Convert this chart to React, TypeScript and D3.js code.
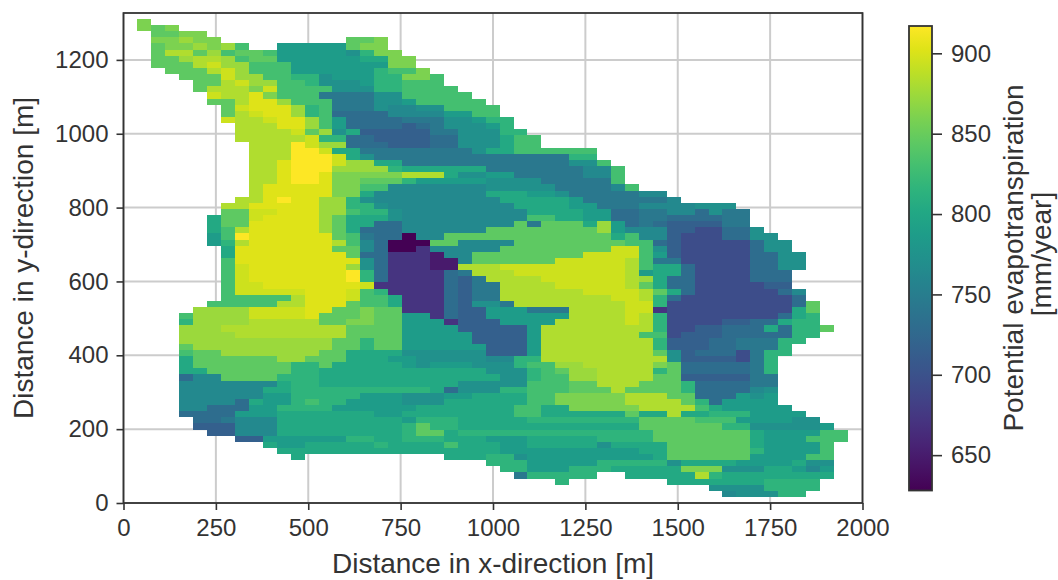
import React, { useRef, useEffect } from 'react';
import * as d3 from 'd3';

const width = 1058, height = 580;
const margin = { left: 123.5, right: 862.5, top: 13, bottom: 503 };
const font = '"Liberation Sans", Arial, sans-serif';
const ink = '#333333';

const xTicks = [0, 250, 500, 750, 1000, 1250, 1500, 1750, 2000];
const yTicks = [0, 200, 400, 600, 800, 1000, 1200];
const barTicks = [650, 700, 750, 800, 850, 900];

// grid of the raster, in metres
const cellW = 37.7, cellH = 16.6, gridTop = 1311;

// mm/year of each letter used in rowRuns
const levelKeys = 'abcdefghijklmnopqrst';
const levelValues = [628, 648, 671, 695, 715, 730, 744, 764, 773, 787, 802, 816, 831, 845, 860, 874, 883, 895, 903, 917];

// one string per raster row, top to bottom: "<first column><level>", '.' = no data
const rowRuns = [
  '1o 2.',
  '1o 2n 3o 4.',
  '2n 4o 6.',
  '2o 4p 5o 7. 16n 18o 19.',
  '2n 3o 5p 6o 7p 8m 9. 11j 16n 17o 19.',
  '2n 3q 5n 6p 7m 8n 10m 11j 16i 17l 18o 20.',
  '2n 4p 5q 7p 8m 9n 11j 17k 19o 21.',
  '2n 5q 6r 7p 9m 12j 19o 21.',
  '3n 6q 7r 8p 9m 12j 18l 19m 21o 22.',
  '4n 7r 8p 10m 12l 14i 15j 18l 20o 22m 23.',
  '5n 7q 8r 9p 11m 13l 14i 17j 18l 20m 23.',
  '5n 6q 9o 10r 11m 15i 18l 20m 24.',
  '6r 7q 9s 10o 11m 14g 18i 20m 25.',
  '6n 8q 9s 11p 12m 15g 18i 20j 21m 26.',
  '7n 8r 9s 12p 13l 14m 15g 18i 19h 21i 23m 27.',
  '7n 8q 9r 10s 12p 13l 14m 15f 19h 23j 25m 27.',
  '7r 8q 10r 11s 13p 14m 15j 16f 20g 23i 25j 26l 28.',
  '8q 11s 13p 14m 15j 16f 20e 21f 22g 23i 26j 27l 28.',
  '8q 12r 13n 14p 15i 16k 17e 22g 24i 27l 29.',
  '8q 13r 14l 16f 18e 22f 24i 27k 28m 30.',
  '9q 12t 13r 14p 16f 19e 22f 24i 27k 28m 30.',
  '9q 12t 14r 15k 17g 25i 26k 28m 34.',
  '9q 12t 15r 16k 17i 18g 32l 34.',
  '9q 11s 12t 15r 16p 18k 20g 32i 34m 35.',
  '9q 11s 12t 15p 19l 20k 26g 33h 35m 36.',
  '9q 11s 12t 14s 15o 20q 23k 24i 26j 28g 33h 35m 36.',
  '9q 11s 12t 14s 15o 17n 20l 21j 26i 30g 35m 36.',
  '9q 10s 15o 17m 19h 26i 31g 35h 36m 37.',
  '9q 10s 15o 17k 18h 26k 29j 31i 32g 37h 39.',
  '8q 10s 11t 12s 14p 16l 17i 18h 27k 32j 33g 39h 40.',
  '7q 9s 14p 16l 18i 19h 28k 32j 34g 37h 41i 44.',
  '7n 9r 11s 14p 16m 17l 19i 20h 29k 33j 35f 37g 39h 41f 42i 43g 45.',
  '6k 7n 9r 10s 14p 15n 16k 19i 20h 29m 31k 33j 35f 37g 39f 43g 45.',
  '6k 7n 9s 14p 15n 16k 18f 20h 28n 29g 30n 33k 34p 35j 36f 37g 38f 39e 43g 45.',
  '6k 7m 8q 9s 14p 15n 16k 17f 20h 26n 34p 35j 36h 39e 41d 43f 45i 46.',
  '6j 7m 8t 9s 15n 16m 17g 18f 20a 21h 23n 35k 36m 37h 39e 40d 43f 45i 47.',
  '6j 7l 8q 9s 15q 16m 17h 18f 19a 22n 24h 28n 36m 38f 39e 40d 45f 46i 48.',
  '7k 8s 15n 17h 18f 19a 21c 22h 27n 35r 37m 38i 39e 40d 45f 46i 48.',
  '7k 8s 16n 17f 19c 22b 23h 25n 33r 37m 38j 39e 40d 45f 47i 49.',
  '7m 8s 17i 18f 19c 22b 24h 25n 31r 36q 37m 38g 40d 45f 47i 49.',
  '7m 8r 9s 16p 17i 18f 19c 22b 24q 27r 36q 37m 38k 40f 41d 45f 47i 49.',
  '7m 8r 9s 16t 17l 18f 19c 23f 24g 25q 28r 36q 37j 38k 40f 41d 45f 48.',
  '7m 8r 9s 16t 17l 18f 19c 23f 24e 25g 26q 30r 36q 37p 38k 39f 41d 45f 48.',
  '7m 8r 10s 17r 18c 23f 24e 25g 27q 31r 36q 37n 38k 39f 41d 46e 48.',
  '7m 8r 13s 16r 17m 18l 19c 23f 24e 25g 27q 33r 37q 38n 39k 40f 41d 47f 48h 49.',
  '7m 12q 13s 16r 17m 19k 20c 23f 24e 25g 27q 35r 37q 38l 39f 40d 48f 49.',
  '6m 11q 13s 16n 17m 19k 20c 23f 24e 25i 27g 28q 36r 38l 39d 48f 49n 50.',
  '5p 9r 13s 15n 17o 18n 20c 23f 24e 26j 29g 32q 36r 38c 39d 48k 49n 50.',
  '4m 5p 9r 13s 14n 17o 18n 20j 22c 23f 24e 26j 32q 36r 37q 38l 39d 47f 48k 49l 50.',
  '4l 5p 9q 14n 16o 18n 20j 23c 24e 27j 31q 36r 37q 38l 39d 43e 45f 47k 48l 50.',
  '4p 7q 16n 20j 24e 29j 30q 38l 39d 41e 43f 46k 47f 48l 50n 51.',
  '4p 8q 16n 20j 25e 29j 30q 37m 39d 40e 43f 48l 50.',
  '4p 15n 17l 18n 20j 25e 29j 30q 38l 39e 42f 44g 47l 49.',
  '4n 5p 15n 17l 18n 20j 26e 29j 30q 38l 39e 42f 44g 47l 48.',
  '4m 5n 7p 14n 16k 20i 26e 29j 30q 38n 39i 40e 41f 44d 45g 46l 48.',
  '4k 5n 11p 13n 16k 19j 21i 26h 28l 30q 39i 40e 44d 45g 46l 47.',
  '4k 5n 12l 14n 15k 20j 21i 22j 25i 28l 29m 31p 33q 38o 39n 40f 45g 46l 47.',
  '4k 6n 12l 14k 26i 29l 30m 31n 32p 34q 38l 39n 40f 45g 46l 47.',
  '4f 5h 7n 11l 14k 27i 29l 30m 32p 34q 38n 40e 45g 47.',
  '4h 11k 12l 14k 24i 29m 32n 34q 37n 40l 41f 45g 47.',
  '4h 10k 12l 22k 23f 24i 27l 29m 32n 35q 36n 40l 41f 45h 46i 47.',
  '4h 10j 12l 17j 20i 23j 25k 29m 31o 36q 39n 41f 44j 45i 46j 47.',
  '4h 8f 9k 10j 12l 13m 14l 16j 20i 23k 29m 31o 36q 40n 41l 42f 43j 47.',
  '4h 6f 9j 11l 15j 21k 28m 30k 32o 37q 41m 42k 43j 48.',
  '4f 8j 11k 18j 20k 28m 30k 36n 37k 39q 40k 42l 45j 49.',
  '5f 7g 8h 11k 20j 21l 24k 29l 37n 41m 44j 48i 50.',
  '5e 8h 11k 20l 21n 22l 24k 37n 43l 45i 50j 51.',
  '6e 8h 11k 20l 21n 23k 24l 38n 45k 46j 50m 52.',
  '8e 10j 16l 18k 20l 23k 26j 29k 34l 38n 45k 46j 49m 52.',
  '10k 11j 13k 18l 19k 23m 24k 27j 29k 34i 35k 39n 45k 46j 50m 51.',
  '11k 27j 37k 39n 45l 46j 50m 51.',
  '12k 13. 23k 26l 28i 29j 38k 39n 45j 49m 51.',
  '26l 29j 34l 39i 40k 44j 48k 49i 51.',
  '27l 29j 32l 35k 40o 43i 46k 48j 49h 50j 51.',
  '28g 29l 34. 36k 41q 42l 43k 51.',
  '31l 32. 39k 46l 50.',
  '42i 46l 50.',
  '43h 44i 47l 49.',
];

const parseRow = (row: string, r: number) => {
  const tokens = row.split(' ').map((t) => ({ col: parseInt(t), key: t[t.length - 1] }));
  return tokens.slice(0, -1).flatMap((t, i) =>
    t.key === '.' ? [] : [{ r, col: t.col, n: tokens[i + 1].col - t.col, value: levelValues[levelKeys.indexOf(t.key)] }]
  );
};
const runs = rowRuns.flatMap(parseRow);

const x = d3.scaleLinear().domain([0, 2000]).range([margin.left, margin.right]);
const y = d3.scaleLinear().domain([0, 1327]).range([margin.bottom, margin.top]);
const color = d3.scaleSequential(d3.interpolateViridis).domain([628, 917]);
const barY = d3.scaleLinear().domain([628, 917]).range([490.5, 26]);
const barX = 909, barW = 23;

const App = () => {
  const xRef = useRef<SVGGElement>(null);
  const yRef = useRef<SVGGElement>(null);
  const barRef = useRef<SVGGElement>(null);

  useEffect(() => {
    const style = (g: any) => {
      g.select('.domain').remove();
      g.selectAll('line').attr('stroke', ink).attr('stroke-width', 1.6);
      g.selectAll('text').attr('fill', ink).style('font-family', font).style('font-size', '24px');
    };
    const fmt = d3.format('d');
    d3.select(xRef.current).call(d3.axisBottom(x).tickValues(xTicks).tickFormat(fmt as any).tickSize(7).tickPadding(9) as any).call(style);
    d3.select(yRef.current).call(d3.axisLeft(y).tickValues(yTicks).tickFormat(fmt as any).tickSize(7).tickPadding(8) as any).call(style);
    d3.select(barRef.current).call(d3.axisRight(barY).tickValues(barTicks).tickFormat(fmt as any).tickSize(10).tickPadding(9) as any).call(style);
  }, []);

  const stops = d3.range(0, 1.01, 0.05);

  return (
    <svg width={width} height={height} style={{ position: 'absolute', left: 0, top: 0, background: '#fff' }}>
      <defs>
        <linearGradient id="viridis" x1="0" y1="1" x2="0" y2="0">
          {stops.map((t) => (
            <stop key={t} offset={t} stopColor={d3.interpolateViridis(t)} />
          ))}
        </linearGradient>
      </defs>

      {xTicks.map((t) => (
        <line key={t} x1={x(t)} x2={x(t)} y1={margin.top} y2={margin.bottom} stroke="#cccccc" strokeWidth={2} />
      ))}
      {yTicks.map((t) => (
        <line key={t} y1={y(t)} y2={y(t)} x1={margin.left} x2={margin.right} stroke="#cccccc" strokeWidth={2} />
      ))}

      {runs.map((d, i) => (
        <rect
          key={i}
          x={x(d.col * cellW)}
          y={y(gridTop - d.r * cellH)}
          width={x(d.n * cellW) - x(0)}
          height={y(0) - y(cellH)}
          fill={color(d.value)}
          shapeRendering="crispEdges"
        />
      ))}

      <rect x={margin.left} y={margin.top} width={margin.right - margin.left} height={margin.bottom - margin.top} fill="none" stroke={ink} strokeWidth={1.8} />
      <g ref={xRef} transform={`translate(0,${margin.bottom})`} />
      <g ref={yRef} transform={`translate(${margin.left},0)`} />

      <text x={493} y={573} textAnchor="middle" fill={ink} fontFamily={font} fontSize={28}>Distance in x-direction [m]</text>
      <text transform="translate(33,258) rotate(-90)" textAnchor="middle" fill={ink} fontFamily={font} fontSize={28}>Distance in y-direction [m]</text>

      <rect x={barX} y={barY(917)} width={barW} height={barY(628) - barY(917)} fill="url(#viridis)" stroke={ink} strokeWidth={1.8} />
      <g ref={barRef} transform={`translate(${barX + barW},0)`} />
      <text transform="translate(1023,258) rotate(-90)" textAnchor="middle" fill={ink} fontFamily={font} fontSize={28}>Potential evapotranspiration</text>
      <text transform="translate(1051,254) rotate(-90)" textAnchor="middle" fill={ink} fontFamily={font} fontSize={28}>[mm/year]</text>
    </svg>
  );
};

export default App;
